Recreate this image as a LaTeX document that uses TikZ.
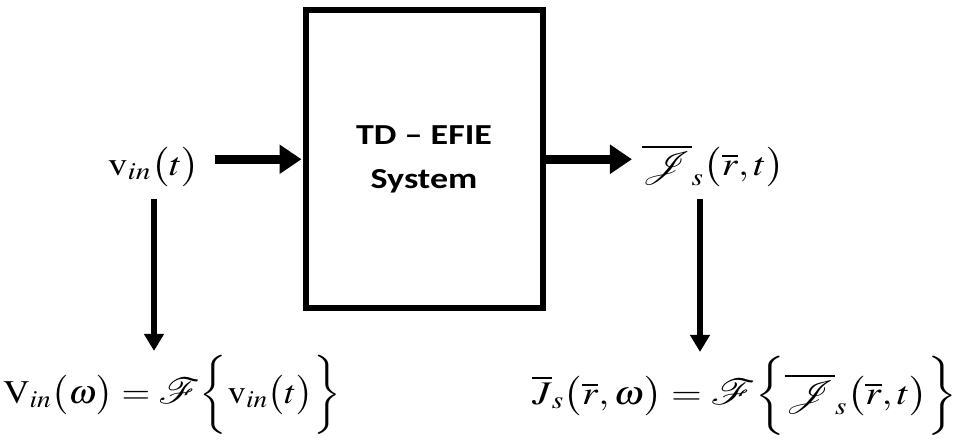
\documentclass[tikz,border=0pt]{standalone}
\usepackage[no-math]{fontspec}
\usepackage{amsmath}
\usepackage{mathptmx}
\usepackage{mathrsfs}
\usepackage{graphicx}
\newfontfamily\boxfont{Carlito}
\newcommand{\scrJ}{\scalebox{1.35}{$\mathscr{J}$}}
\newcommand{\scrF}{\scalebox{1.45}{$\mathscr{F}$}}
\usetikzlibrary{positioning, arrows.meta}

\begin{document}
\begin{tikzpicture}[x=1pt, y=1pt, draw=black,
	mathlbl/.style={inner sep=2pt, xscale=1.2, transform shape, font=\fontsize{33}{40}\selectfont},
	thickarrow/.style={line width=9pt, -{Triangle[length=22pt, width=28pt]}},
	thinarrow/.style={line width=5.5pt, -{Triangle[length=17pt, width=19pt]}}]
		\useasboundingbox (0,0) rectangle (960,440);
		%diagram
		\node[draw, rectangle, line width=6pt, minimum width=237pt, minimum height=297.5pt, inner sep=0pt, align=center, font=\boxfont\bfseries\fontsize{29}{44}\selectfont] (efie) at (424,280.75) {\scalebox{1.24}[1]{TD – EFIE}\\\scalebox{1.24}[1]{System}};
		\node[mathlbl, anchor=base] (vin) at (154,265) {$\mathrm{v}_{in}\bigl(t\bigr)$};
		\node[mathlbl, anchor=base] (js) at (713,265) {$\overline{\scrJ}_{s}\bigl(\overline{r},t\bigr)$};
		\node[mathlbl, xscale=0.93, anchor=base] (vw) at (172,37) {$\mathrm{V}_{in}\bigl(\omega\bigr)=\scrF\biggl\{\mathrm{v}_{in}\bigl(t\bigr)\biggr\}$};
		\node[mathlbl, anchor=base] (jw) at (745,36) {$\overline{J}_{s}\bigl(\overline{r},\omega\bigr)=\scrF\biggl\{\overline{\scrJ}_{s}\bigl(\overline{r},t\bigr)\biggr\}$};
		%arrows
		\draw[thickarrow, shorten <=12pt, shorten >=1pt] (efie.west -| vin.east) -- (efie.west);
		\draw[thickarrow, shorten >=7pt] (efie.east) -- (efie.east -| js.west);
		\draw[thinarrow, shorten <=10pt, shorten >=2pt] (vin.south) -- (vin.south |- vw.north);
		\draw[thinarrow, shorten <=10pt, shorten >=2pt] ([xshift=-13pt]js.south) -- ([xshift=-13pt]js.south |- jw.north);
\end{tikzpicture}
\end{document}
